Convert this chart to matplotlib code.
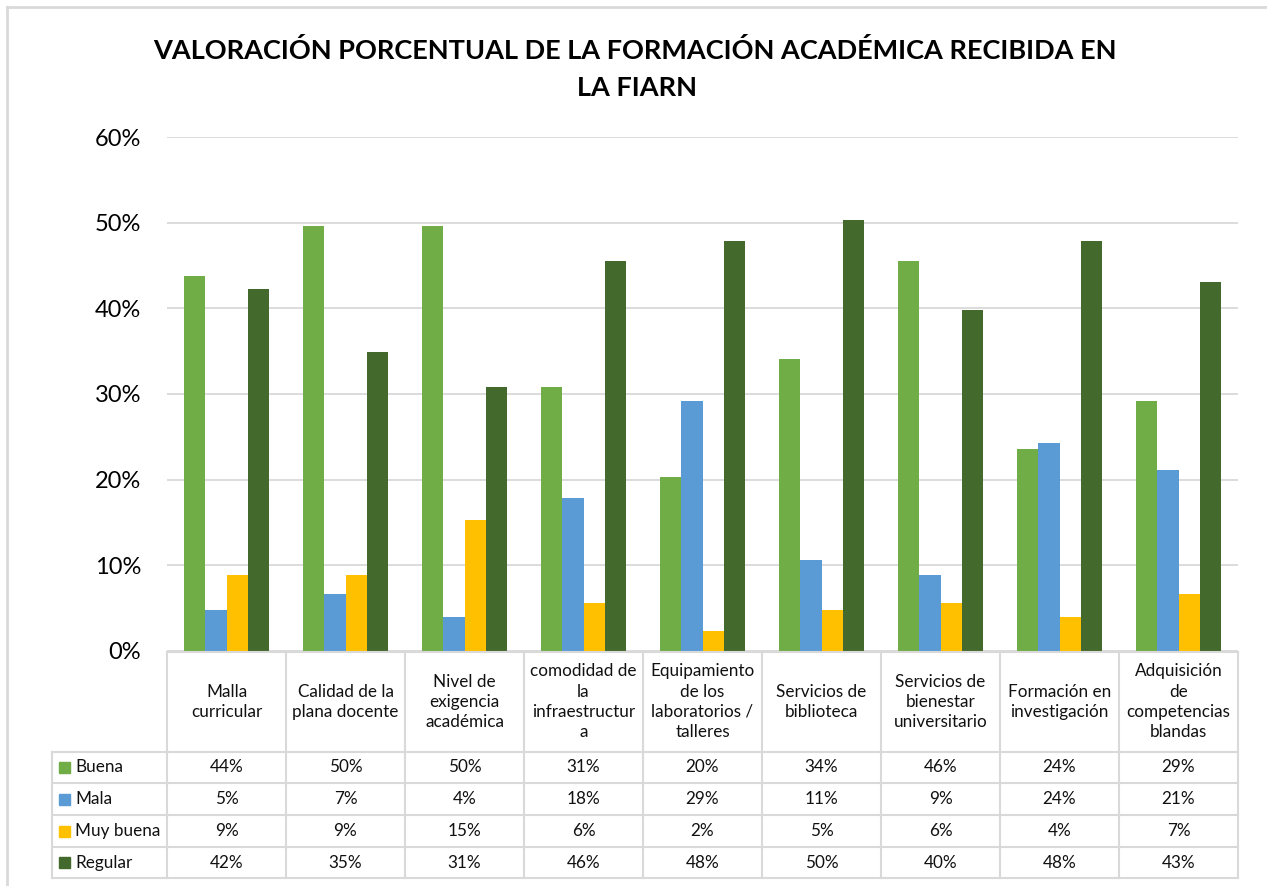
import matplotlib.pyplot as plt
import numpy as np

plt.rcParams['font.family'] = ['Lato', 'DejaVu Sans']

categories = ['Malla\ncurricular', 'Calidad de la\nplana docente', 'Nivel de\nexigencia\nacadémica',
              'comodidad de\nla\ninfraestructur\na', 'Equipamiento\nde los\nlaboratorios /\ntalleres',
              'Servicios de\nbiblioteca', 'Servicios de\nbienestar\nuniversitario',
              'Formación en\ninvestigación', 'Adquisición\nde\ncompetencias\nblandas']
series = ['Buena', 'Mala', 'Muy buena', 'Regular']
buena = [43.8, 49.6, 49.6, 30.8, 20.3, 34.1, 45.6, 23.6, 29.2]
mala = [4.7, 6.6, 3.9, 17.8, 29.2, 10.6, 8.8, 24.3, 21.1]
muy_buena = [8.8, 8.8, 15.3, 5.6, 2.3, 4.7, 5.6, 3.9, 6.6]
regular = [42.3, 34.9, 30.8, 45.6, 47.9, 50.4, 39.8, 47.9, 43.1]
colors = ['#70AD47', '#5B9BD5', '#FFC000', '#44692D']
values = [buena, mala, muy_buena, regular]

W, H = 1267, 886
fig = plt.figure(figsize=(W / 100, H / 100), dpi=100)

def fx(px):
    return px / W

def fy(py):
    return 1 - py / H

# main bar chart
ax = fig.add_axes([fx(167), fy(650.6), fx(1238) - fx(167), fy(137.4) - fy(650.6)])
x = np.arange(len(categories))
bw = 0.18
for i, (name, vals) in enumerate(zip(series, values)):
    ax.bar(x + (i - 1.5) * bw, vals, bw, color=colors[i], zorder=3)
ax.set_xlim(-0.5, len(categories) - 0.5)
ax.set_ylim(0, 60)
ax.set_yticks(range(0, 61, 10))
ax.set_yticklabels([f'{t}%' for t in range(0, 61, 10)], fontsize=17)
ax.tick_params(axis='y', length=0, pad=18.5)
ax.set_xticks([])
ax.grid(axis='y', color='#d9d9d9', linewidth=1.3, zorder=0)
for s in ax.spines.values():
    s.set_visible(False)

# data table below (columns aligned with the bar groups)
tb = fig.add_axes([fx(167), fy(878.3), fx(1238) - fx(167), fy(652) - fy(878.3)])
tb.set_xlim(-0.5, len(categories) - 0.5)
tb.set_ylim(226.3, 0)
tb.axis('off')
col_w = 1071 / len(categories)
x_left = -0.5 - (167 - 52) / col_w
row_edges = [0, 99.7, 131.3, 163.3, 195.3, 226.3]
lc = '#d9d9d9'
for k, y in enumerate(row_edges):
    x0 = -0.5 if k == 0 else x_left
    tb.plot([x0, len(categories) - 0.5], [y, y], color=lc, lw=1.5, clip_on=False)
for c in range(len(categories) + 1):
    tb.plot([c - 0.5, c - 0.5], [0, 226.3], color=lc, lw=1.5, clip_on=False)
tb.plot([x_left, x_left], [row_edges[1], 226.3], color=lc, lw=1.5, clip_on=False)

for c, cat in enumerate(categories):
    tb.text(c, row_edges[1] / 2, cat, ha='center', va='center', fontsize=12.3,
            linespacing=1.33, color='#111111')
for r, (name, vals) in enumerate(zip(series, values)):
    yc = (row_edges[r + 1] + row_edges[r + 2]) / 2
    tb.text(x_left + 23 / col_w, yc, name, ha='left', va='center', fontsize=12.3, color='#111111')
    tb.add_patch(plt.Rectangle((x_left + 7 / col_w, yc - 5.5), 11 / col_w, 11,
                               color=colors[r], clip_on=False))
    for c, v in enumerate(vals):
        tb.text(c, yc, f'{v:.0f}%', ha='center', va='center', fontsize=12.3, color='#111111')

# title
fig.text(fx(635), fy(58.7), 'VALORACIÓN PORCENTUAL DE LA FORMACIÓN ACADÉMICA RECIBIDA EN',
         ha='center', va='baseline', fontsize=19.5, fontweight='bold')
fig.text(fx(637), fy(96), 'LA FIARN', ha='center', va='baseline', fontsize=19.5, fontweight='bold')

# chart area border (top and left visible)
fig.add_artist(plt.Line2D([fx(6.5), fx(6.5)], [0, fy(6.5)], color='#d9d9d9', lw=2))
fig.add_artist(plt.Line2D([fx(6.5), 1], [fy(6.5), fy(6.5)], color='#d9d9d9', lw=2))

fig.savefig('out.png', dpi=100)
